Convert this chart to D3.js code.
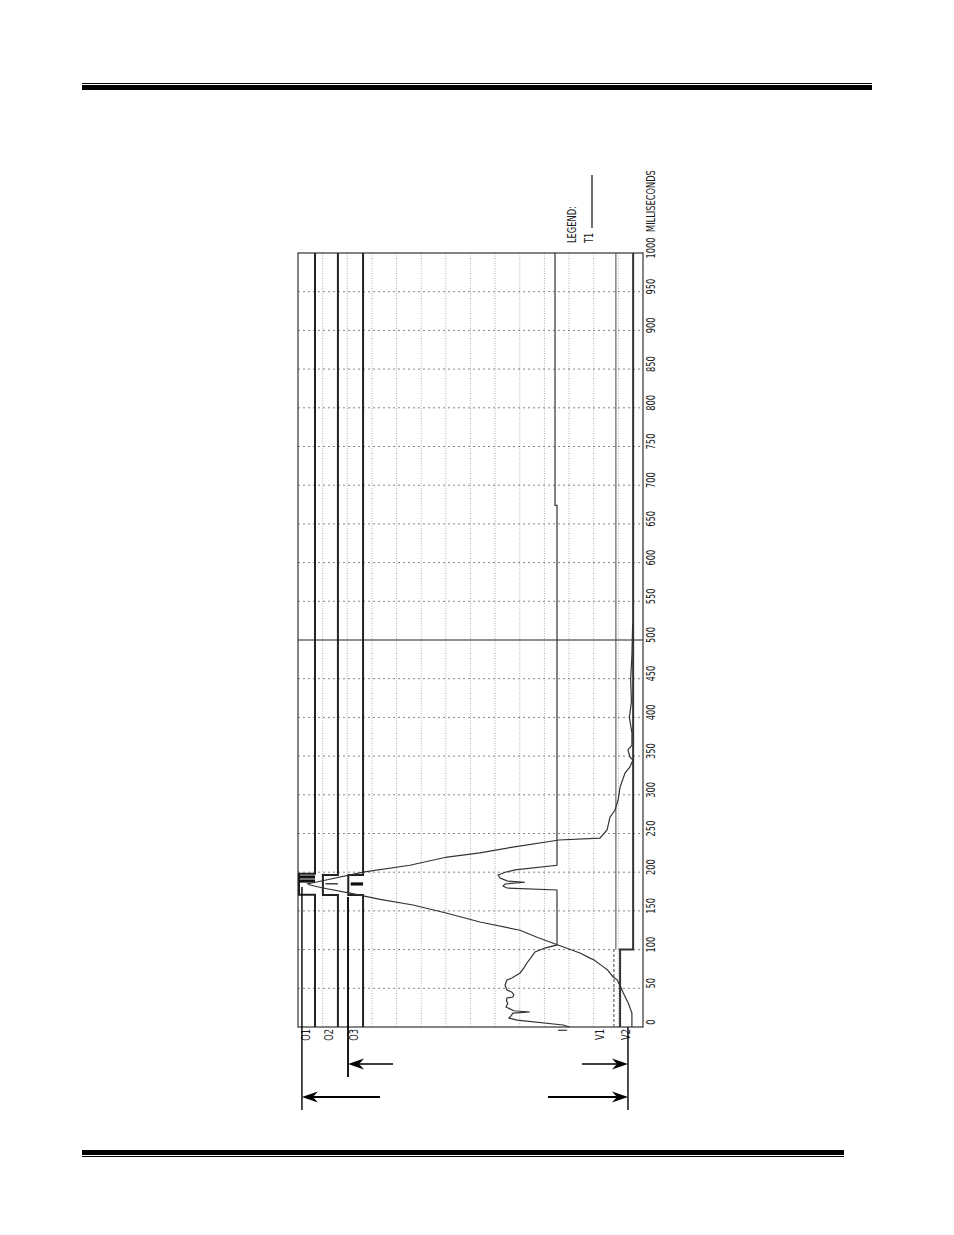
<!DOCTYPE html>
<html>
<head>
<meta charset="utf-8">
<script src="https://cdn.jsdelivr.net/npm/d3@7"></script>
<style>
  body { margin: 0; background: #fff; }
  text { font-family: "Liberation Sans Narrow", "DejaVu Sans Condensed", "DejaVu Sans", sans-serif; fill: #1a1a1a; }
</style>
</head>
<body>
<div id="chart"></div>
<script>
// time axis, milliseconds (drawn vertically, 0 at the bottom)
var timeTicks = [0, 50, 100, 150, 200, 250, 300, 350, 400, 450, 500,
                 550, 600, 650, 700, 750, 800, 850, 900, 950, 1000];
var channelNames = ["O1", "O2", "O3", "I", "V1", "V2"];

// T1 travel: deflection in grid divisions, measured from the right frame edge
var travelTime = [0, 18, 31, 44, 50, 61, 65, 74, 78, 87, 89, 95.6, 106, 116, 125, 135.7, 147, 157.6,
                  165, 173, 179.6, 183.5, 185, 186, 200, 209, 219.6, 225, 232.5, 241.6, 244, 254.5,
                  271, 280, 293, 310, 328, 336, 345, 349, 358, 364, 380, 400, 420, 450, 480, 520];
var travelDiv  = [0.45, 0.45, 0.6, 0.8, 0.88, 1.05, 1.22, 1.45, 1.62, 2.0, 2.15, 2.56, 3.45, 4.3, 4.99, 6.62, 7.95, 9.33,
                  10.67, 11.89, 12.99, 13.51, 13.6, 13.43, 11.36, 9.46, 7.95, 6.62, 5.28, 3.41, 1.75, 1.46,
                  1.34, 1.14, 1.01, 0.93, 0.73, 0.53, 0.41, 0.53, 0.61, 0.45, 0.45, 0.55, 0.47, 0.5, 0.45, 0.42];

// coil current I: deflection in divisions to the left of its zero line
var currentTime = [0, 2.6, 9, 11.6, 15, 18, 19.4, 21, 25.8, 30, 34, 37.5, 38.8, 42, 45, 47.8, 54, 60.7,
                   63.3, 69.8, 76, 82.7, 90, 96.9, 102, 106, 177, 179.6, 182, 184.8, 187, 188.5, 192.5,
                   196.4, 200, 203, 209, 674, 674, 1000];
var currentDiv  = [-0.5, -0.25, 1.62, 1.95, 1.85, 1.79, 1.1, 1.75, 2.07, 2.0, 2.05, 2.03, 1.79, 1.75, 1.83, 2.03, 2.11, 2.03,
                   1.83, 1.5, 1.35, 1.22, 1.05, 0.89, 0.49, 0, 0, 2.03, 2.19, 2.11, 1.3, 2.0, 2.31,
                   2.39, 2.1, 1.7, 0, 0, 0.08, 0.08];

// contact channels O1..O3: change-over interval (ms) and pulse depth (divisions)
var contactStart = [171, 170.5, 170.5];
var contactEnd   = [198, 196.4, 196.4];
var contactDepth = [0.65, 0.61, 0.6];
// bounce marks inside the contact pulses
var bounceChannel = [0, 0, 1, 2];
var bounceTime    = [188.6, 193.8, 185, 184.8];

// V1 and V2 traces (divisions, V2 steps to the right)
var v1Time = [0, 100, 1000];
var v1Div  = [0, 0, 0];
var v2Time = [0, 100, 100, 1000];
var v2Div  = [0, 0, 0.53, 0.53];

// ---------- layout ----------
var width = 954, height = 1235;
var svg = d3.select("#chart").append("svg")
    .attr("width", width).attr("height", height);

var y = d3.scaleLinear().domain([0, 1000]).range([1027, 253]);
var x = d3.scaleLinear().domain([0, 14]).range([298, 643]);

// baselines of the channels in divisions from the left frame edge
var base = { O: [0.69, 1.62, 2.64], I: 10.51, V1: 12.9, V2: 13.07 };
var labelX = [x(base.O[0]) - 9, x(base.O[1]) - 9, x(base.O[2]) - 9, x(base.I) + 6, x(base.V1) - 16, x(base.V2) + 6];
var squeeze = "scale(0.8,1)";   // plotter lettering is narrow

// page rules
svg.append("line").attr("x1", 82).attr("x2", 872).attr("y1", 83.5).attr("y2", 83.5)
    .attr("stroke", "#000").attr("stroke-width", 1.2);
svg.append("rect").attr("x", 82).attr("y", 85).attr("width", 790).attr("height", 5).attr("fill", "#000");
svg.append("rect").attr("x", 82).attr("y", 1150).attr("width", 762).attr("height", 5).attr("fill", "#000");
svg.append("line").attr("x1", 82).attr("x2", 844).attr("y1", 1156.5).attr("y2", 1156.5)
    .attr("stroke", "#000").attr("stroke-width", 1.2);

var plot = svg.append("g");

// grid: vertical divisions
plot.selectAll("line.vgrid")
    .data(d3.range(1, 14))
    .join("line").attr("class", "vgrid")
    .attr("x1", d => x(d)).attr("x2", d => x(d))
    .attr("y1", y(1000)).attr("y2", y(0))
    .attr("stroke", "#999").attr("stroke-width", 0.8)
    .attr("stroke-dasharray", "1,1.5");

// grid: time lines
plot.selectAll("line.hgrid")
    .data(timeTicks.filter(t => t > 0 && t < 1000))
    .join("line").attr("class", "hgrid")
    .attr("x1", x(0)).attr("x2", x(14))
    .attr("y1", d => y(d)).attr("y2", d => y(d))
    .attr("stroke", d => d === 500 ? "#222" : "#777")
    .attr("stroke-width", d => d === 500 ? 1 : 0.9)
    .attr("stroke-dasharray", d => d === 500 ? null : "2,3");

// frame
plot.append("rect")
    .attr("x", x(0)).attr("y", y(1000))
    .attr("width", x(14) - x(0)).attr("height", y(0) - y(1000))
    .attr("fill", "none").attr("stroke", "#333").attr("stroke-width", 1.2);

var line = d3.line().x(d => x(d[1])).y(d => y(d[0]));

// contact channels
contactStart.forEach(function (s, i) {
    var b = base.O[i], e = contactEnd[i], dep = contactDepth[i];
    var pts = [[0, b], [s, b], [s, b - dep], [e, b - dep], [e, b], [1000, b]];
    plot.append("path").attr("d", line(pts))
        .attr("fill", "none").attr("stroke", "#222").attr("stroke-width", 2);
});
plot.selectAll("line.bounce")
    .data(bounceTime.map((t, i) => ({ t: t, ch: bounceChannel[i] })))
    .join("line").attr("class", "bounce")
    .attr("x1", d => x(base.O[d.ch] - contactDepth[d.ch] + (d.ch === 0 ? 0 : 0.1)))
    .attr("x2", d => x(base.O[d.ch]))
    .attr("y1", d => y(d.t)).attr("y2", d => y(d.t))
    .attr("stroke", "#111")
    .attr("stroke-width", d => d.ch === 1 ? 1.2 : 3.2);

// coil current
plot.append("path")
    .attr("d", line(currentTime.map((t, i) => [t, base.I - currentDiv[i]])))
    .attr("fill", "none").attr("stroke", "#333").attr("stroke-width", 1.2);

// V1 (dashed until the voltage settles)
plot.append("path")
    .attr("d", line(v1Time.slice(0, 2).map((t, i) => [t, base.V1 - 0.08 + v1Div[i]])))
    .attr("fill", "none").attr("stroke", "#444").attr("stroke-width", 1)
    .attr("stroke-dasharray", "3,2");
plot.append("path")
    .attr("d", line(v1Time.slice(1).map((t, i) => [t, base.V1 + v1Div[i + 1]])))
    .attr("fill", "none").attr("stroke", "#444").attr("stroke-width", 1);

// V2
plot.append("path")
    .attr("d", line(v2Time.map((t, i) => [t, base.V2 + v2Div[i]])))
    .attr("fill", "none").attr("stroke", "#333").attr("stroke-width", 2);

// T1 travel
plot.append("path")
    .attr("d", line(travelTime.map((t, i) => [t, 14 - travelDiv[i]])))
    .attr("fill", "none").attr("stroke", "#333").attr("stroke-width", 1.2);

// time tick labels (rotated with the record)
plot.selectAll("text.tick")
    .data(timeTicks)
    .join("text").attr("class", "tick")
    .attr("transform", d => "translate(651," + (y(d) - 5) + ") rotate(-90) " + squeeze)
    .attr("text-anchor", "middle").attr("dominant-baseline", "central")
    .style("font-size", "11.5px")
    .text(d => d);
plot.append("text")
    .attr("transform", "translate(651," + (y(1000) - 21) + ") rotate(-90) " + squeeze)
    .attr("dominant-baseline", "central")
    .style("font-size", "11.5px")
    .text("MILLISECONDS");

// channel names under the record
plot.selectAll("text.chan")
    .data(channelNames)
    .join("text").attr("class", "chan")
    .attr("transform", (d, i) => "translate(" + labelX[i] + "," + (y(0) + 2) + ") rotate(-90) " + squeeze)
    .attr("text-anchor", "end").attr("dominant-baseline", "central")
    .style("font-size", "11.5px")
    .text(d => d);

// legend
plot.append("text")
    .attr("transform", "translate(572,243) rotate(-90) " + squeeze)
    .attr("dominant-baseline", "central")
    .style("font-size", "11.5px").text("LEGEND:");
plot.append("text")
    .attr("transform", "translate(589,243) rotate(-90) " + squeeze)
    .attr("dominant-baseline", "central")
    .style("font-size", "11.5px").text("T1");
plot.append("line").attr("x1", 592).attr("x2", 592).attr("y1", 175).attr("y2", 228)
    .attr("stroke", "#222").attr("stroke-width", 1.3);

// dimension arrows below the record
var note = svg.append("g").attr("stroke", "#000").attr("fill", "#000");
var dimX = [x(0.16), x(2.03), x(13.39)];
note.append("line").attr("x1", dimX[0]).attr("x2", dimX[0]).attr("y1", y(181)).attr("y2", 1110).attr("stroke-width", 1.4);
note.append("line").attr("x1", dimX[1]).attr("x2", dimX[1]).attr("y1", y(168)).attr("y2", 1077).attr("stroke-width", 1.8);
note.append("line").attr("x1", dimX[2]).attr("x2", dimX[2]).attr("y1", y(0)).attr("y2", 1110).attr("stroke-width", 1.4);

function arrow(x0, x1, yy, sw) {
    // shaft from x1 to the tip at x0
    var dir = x0 < x1 ? 1 : -1;
    note.append("line").attr("x1", x0 + dir * 6).attr("x2", x1).attr("y1", yy).attr("y2", yy).attr("stroke-width", sw);
    note.append("path")
        .attr("d", "M" + x0 + "," + yy + "L" + (x0 + dir * 16) + "," + (yy - 5.5) +
                   "L" + (x0 + dir * 11) + "," + yy + "L" + (x0 + dir * 16) + "," + (yy + 5.5) + "Z")
        .attr("stroke", "none");
}
arrow(dimX[0], 380, 1097, 2.2);
arrow(dimX[2], 548, 1097, 2.2);
arrow(dimX[1], 393, 1064, 1.6);
arrow(dimX[2], 582, 1064, 1.6);
</script>
</body>
</html>
